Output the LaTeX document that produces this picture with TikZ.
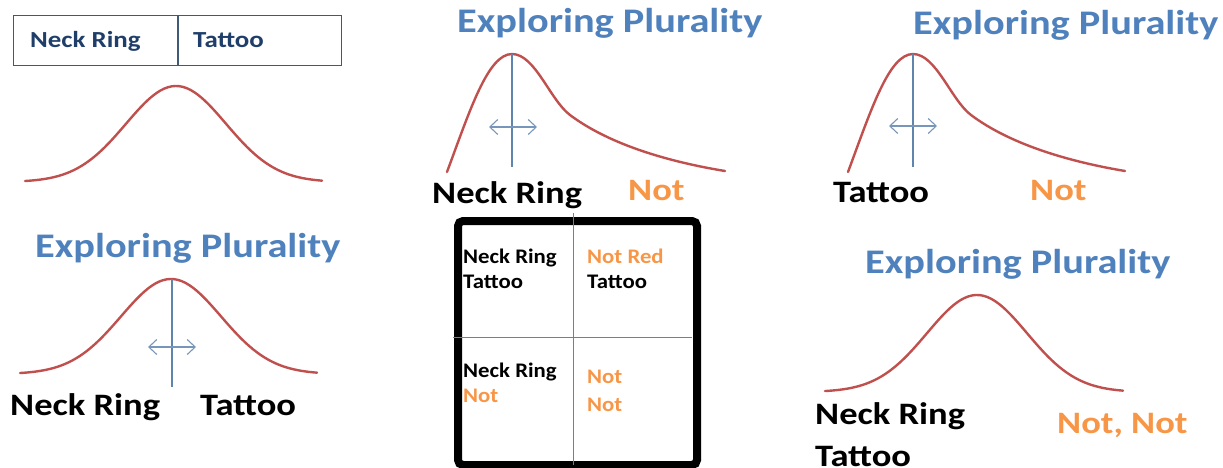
\documentclass[tikz,border=0pt]{standalone}
\usepackage{fontspec}
\setmainfont{Carlito}
\newfontfamily\stretchfont{Carlito}[FakeStretch=1.17]
\newfontfamily\cellfont{Carlito}[FakeStretch=1.1]
\usetikzlibrary{arrows.meta}
\definecolor{titleblue}{HTML}{4F81BD}
\definecolor{curvered}{HTML}{C0504D}
\definecolor{notorange}{HTML}{F79646}
\definecolor{axisblue}{HTML}{5F84AE}
\definecolor{navy}{HTML}{1F3F6A}
\definecolor{tableline}{HTML}{3E5A78}
\tikzset{
  title/.style={font=\stretchfont\fontsize{34.5}{37}\selectfont\bfseries, text=titleblue, inner sep=0pt, anchor=base west},
  biglab/.style={font=\stretchfont\fontsize{31.2}{36}\selectfont\bfseries, text=black, inner sep=0pt, anchor=base west},
  orangelab/.style={biglab, text=notorange},
  celltxt/.style={font=\cellfont\fontsize{20.7}{25}\selectfont\bfseries, inner sep=0pt, anchor=base west},
  tabtxt/.style={font=\stretchfont\fontsize{23}{25}\selectfont\bfseries, text=navy, inner sep=0pt, anchor=base west},
  curve/.style={draw=curvered, line width=2.4pt, line cap=round},
  axisline/.style={draw=axisblue, line width=1.1pt},
  dblarrow/.style={draw=axisblue!85, line width=1.1pt, {Straight Barb[length=8pt,width=15pt]}-{Straight Barb[length=8pt,width=15pt]}},
}
\begin{document}
\begin{tikzpicture}[x=1pt,y=-1pt]
\useasboundingbox (0,0) rectangle (1223,468);
% ---- top-left table
\node[draw=tableline, line width=1.2pt, minimum width=328pt, minimum height=50pt, anchor=north west, inner sep=0pt] (tab) at (13,15) {};
\coordinate (divtop) at (178,15);
\coordinate (divbot) at (178,65);
\draw[draw=tableline, line width=1.2pt] (divtop) -- (divbot);
\node[tabtxt] (tabnr) at (30,48) {Neck Ring};
\node[tabtxt] (tabtt) at (193,48) {Tattoo};
% ---- bell 1
\draw[curve] plot[domain=25:322, samples=80] (\x, {182 - 96*exp(-0.5*((\x-176)/50)^2)});
% ---- panel 2
\node[title] (t2) at (35,257) {Exploring Plurality};
\draw[curve] plot[domain=20:317, samples=80] (\x, {374 - 95*exp(-0.5*((\x-171)/50)^2)});
\coordinate (p2top) at (172,279);
\coordinate (p2bot) at (172,387);
\draw[axisline] (p2top) -- (p2bot);
\coordinate (a2l) at (148,347);
\coordinate (a2r) at (196,347);
\draw[dblarrow] (a2l) -- (a2r);
\node[biglab] (nr2) at (10,415) {Neck Ring};
\node[biglab] (tt2) at (200,415) {Tattoo};
% ---- panel 3
\node[title] (t3) at (457,33) {Exploring Plurality};
\draw[curve] (447,172) .. controls (470,110) and (488,54) .. (512,54)
  .. controls (535,54) and (550,100) .. (570,115)
  .. controls (610,145) and (670,162) .. (725,171);
\coordinate (p3top) at (512,54);
\coordinate (p3bot) at (512,167);
\draw[axisline] (p3top) -- (p3bot);
\coordinate (a3l) at (489,127);
\coordinate (a3r) at (537,127);
\draw[dblarrow] (a3l) -- (a3r);
\node[biglab] (nr3) at (432,203) {Neck Ring};
\node[orangelab] (no3) at (628,200) {Not};
% ---- 2x2 box
\node[draw=black, line width=8pt, rounded corners=5pt, minimum width=239pt, minimum height=244pt, anchor=north west, inner sep=0pt] (box) at (454,217) {};
\coordinate (vtop) at (573,213);
\coordinate (vbot) at (573,465);
\coordinate (hl) at (453,337);
\coordinate (hr) at (692,337);
\draw[axisline, line width=0.9pt] (vtop) -- (vbot);
\draw[axisline, line width=0.9pt] (hl) -- (hr);
\node[celltxt] (c11a) at (463,263) {Neck Ring};
\node[celltxt] (c11b) at (463,288) {Tattoo};
\node[celltxt, text=notorange] (c12a) at (587,263) {Not Red};
\node[celltxt] (c12b) at (587,288) {Tattoo};
\node[celltxt] (c21a) at (463,377) {Neck Ring};
\node[celltxt, text=notorange] (c21b) at (463,402) {Not};
\node[celltxt, text=notorange] (c22a) at (587,383) {Not};
\node[celltxt, text=notorange] (c22b) at (587,411) {Not};
% ---- panel 4
\node[title] (t4) at (913,35) {Exploring Plurality};
\draw[curve] (848,172) .. controls (871,110) and (889,54) .. (913,54)
  .. controls (936,54) and (951,100) .. (971,115)
  .. controls (1011,145) and (1071,162) .. (1125,171);
\coordinate (p4top) at (913,54);
\coordinate (p4bot) at (913,167);
\draw[axisline] (p4top) -- (p4bot);
\coordinate (a4l) at (889,126);
\coordinate (a4r) at (937,126);
\draw[dblarrow] (a4l) -- (a4r);
\node[biglab] (tt4) at (833,202) {Tattoo};
\node[orangelab] (no4) at (1030,200) {Not};
% ---- panel 5
\node[title] (t5) at (865,273) {Exploring Plurality};
\draw[curve] plot[domain=825:1123, samples=80] (\x, {392 - 97*exp(-0.5*((\x-977)/50)^2)});
\node[biglab] (nr5) at (815,424) {Neck Ring};
\node[biglab] (tt5) at (815,466) {Tattoo};
\node[orangelab] (nn5) at (1057,433) {Not, Not};
\end{tikzpicture}
\end{document}
